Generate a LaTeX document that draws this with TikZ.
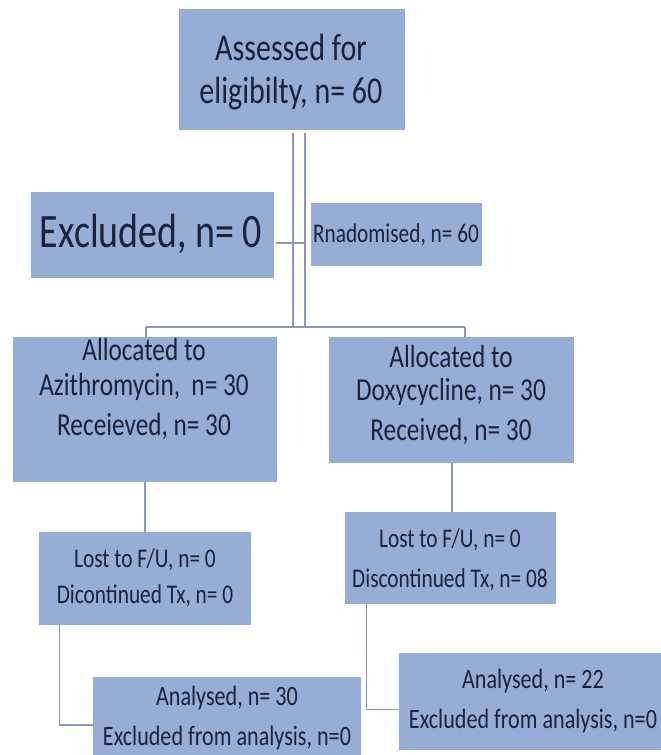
\documentclass[tikz,border=0pt]{standalone}
\usepackage{fontspec}
\setmainfont{Carlito}[FakeStretch=0.79]
\definecolor{boxfill}{RGB}{150,173,214}
\definecolor{txtcol}{RGB}{28,34,58}
\definecolor{linecol}{RGB}{138,150,190}
\begin{document}
\begin{tikzpicture}[x=1pt,y=-1pt,
  box/.style={rectangle,fill=boxfill,draw=none,inner sep=0pt},
  lbl/.style={anchor=base,inner sep=0pt,text=txtcol},
  fxl/.style={font=\fontsize{48}{58}\selectfont},
  fbig/.style={font=\fontsize{38}{46}\selectfont},
  fmid/.style={font=\fontsize{32}{39}\selectfont},
  fsml/.style={font=\fontsize{27}{33}\selectfont},
  fana/.style={font=\fontsize{28}{34}\selectfont},
  conn/.style={draw=linecol,line width=1.1pt}]
\path[use as bounding box,fill=white] (0,0) rectangle (661,755);
% boxes
\node[box,minimum width=226pt,minimum height=121pt] (top) at (292,69.5) {};
\node[box,minimum width=243pt,minimum height=86pt] (excl) at (152.5,235) {};
\node[box,minimum width=171pt,minimum height=63pt] (rand) at (396.5,234.5) {};
\node[box,minimum width=264pt,minimum height=145pt] (allocL) at (145,409.5) {};
\node[box,minimum width=245pt,minimum height=126pt] (allocR) at (451.5,400) {};
\node[box,minimum width=212pt,minimum height=93pt] (lostL) at (145,578.5) {};
\node[box,minimum width=211pt,minimum height=92pt] (lostR) at (450.5,558) {};
\node[box,minimum width=268pt,minimum height=96pt] (anaL) at (227,725) {};
\node[box,minimum width=262pt,minimum height=97pt] (anaR) at (530,701.5) {};
% texts
\node[lbl,fbig] (topA) at (291,60) {Assessed for};
\node[lbl,fbig] (topB) at (291,103) {eligibilty, n= 60};
\node[lbl,fxl] (exclA) at (151,247) {Excluded, n= 0};
\node[lbl,fsml] (randA) at (396,242) {Rnadomised, n= 60};
\node[lbl,fmid] (allocLA) at (144,360) {Allocated to};
\node[lbl,fmid] (allocLB) at (144,395) {Azithromycin,~ n= 30};
\node[lbl,fmid] (allocLC) at (144,435) {Receieved, n= 30};
\node[lbl,fmid] (allocRA) at (451,367) {Allocated to};
\node[lbl,fmid] (allocRB) at (451,400) {Doxycycline, n= 30};
\node[lbl,fmid] (allocRC) at (451,440) {Received, n= 30};
\node[lbl,fsml] (lostLA) at (145,567) {Lost to F/U, n= 0};
\node[lbl,fsml] (lostLB) at (145,603) {Dicontinued Tx, n= 0};
\node[lbl,fsml] (lostRA) at (450,547) {Lost to F/U, n= 0};
\node[lbl,fsml] (lostRB) at (450,587) {Discontinued Tx, n= 08};
\node[lbl,fana] (anaLA) at (227,705) {Analysed, n= 30};
\node[lbl,fana] (anaLB) at (227,745) {Excluded from analysis, n=0};
\node[lbl,fana] (anaRA) at (533,688) {Analysed, n= 22};
\node[lbl,fana] (anaRB) at (533,728) {Excluded from analysis, n=0};
% connectors
\coordinate (vl) at ([xshift=1pt,yshift=-3pt]top.south);
\coordinate (vr) at ([xshift=13pt,yshift=-3pt]top.south);
\coordinate (busL) at (146,327);
\coordinate (busR) at (465,327);
\draw[conn] (vl) -- (vl |- busL);
\draw[conn] (vr) -- (vr |- busL);
\draw[conn] (busL) -- (busR);
\draw[conn] (busL) -- (busL |- allocL.north);
\draw[conn] (busR) -- (busR |- allocR.north);
\coordinate (ex) at ([xshift=2pt,yshift=-8pt]excl.east);
\draw[conn] (ex) -- (ex -| vr);
\draw[conn] (allocL.south) -- (lostL.north);
\coordinate (ar) at ([xshift=0.5pt]allocR.south);
\draw[conn] (ar) -- (ar |- lostR.north);
\coordinate (eL) at ([xshift=21pt]lostL.south west);
\draw[conn] (eL) |- (anaL.west);
\coordinate (eR) at ([xshift=22pt]lostR.south west);
\coordinate (aR) at ([yshift=-8pt]anaR.west);
\draw[conn] (eR) |- (aR);
\end{tikzpicture}
\end{document}
